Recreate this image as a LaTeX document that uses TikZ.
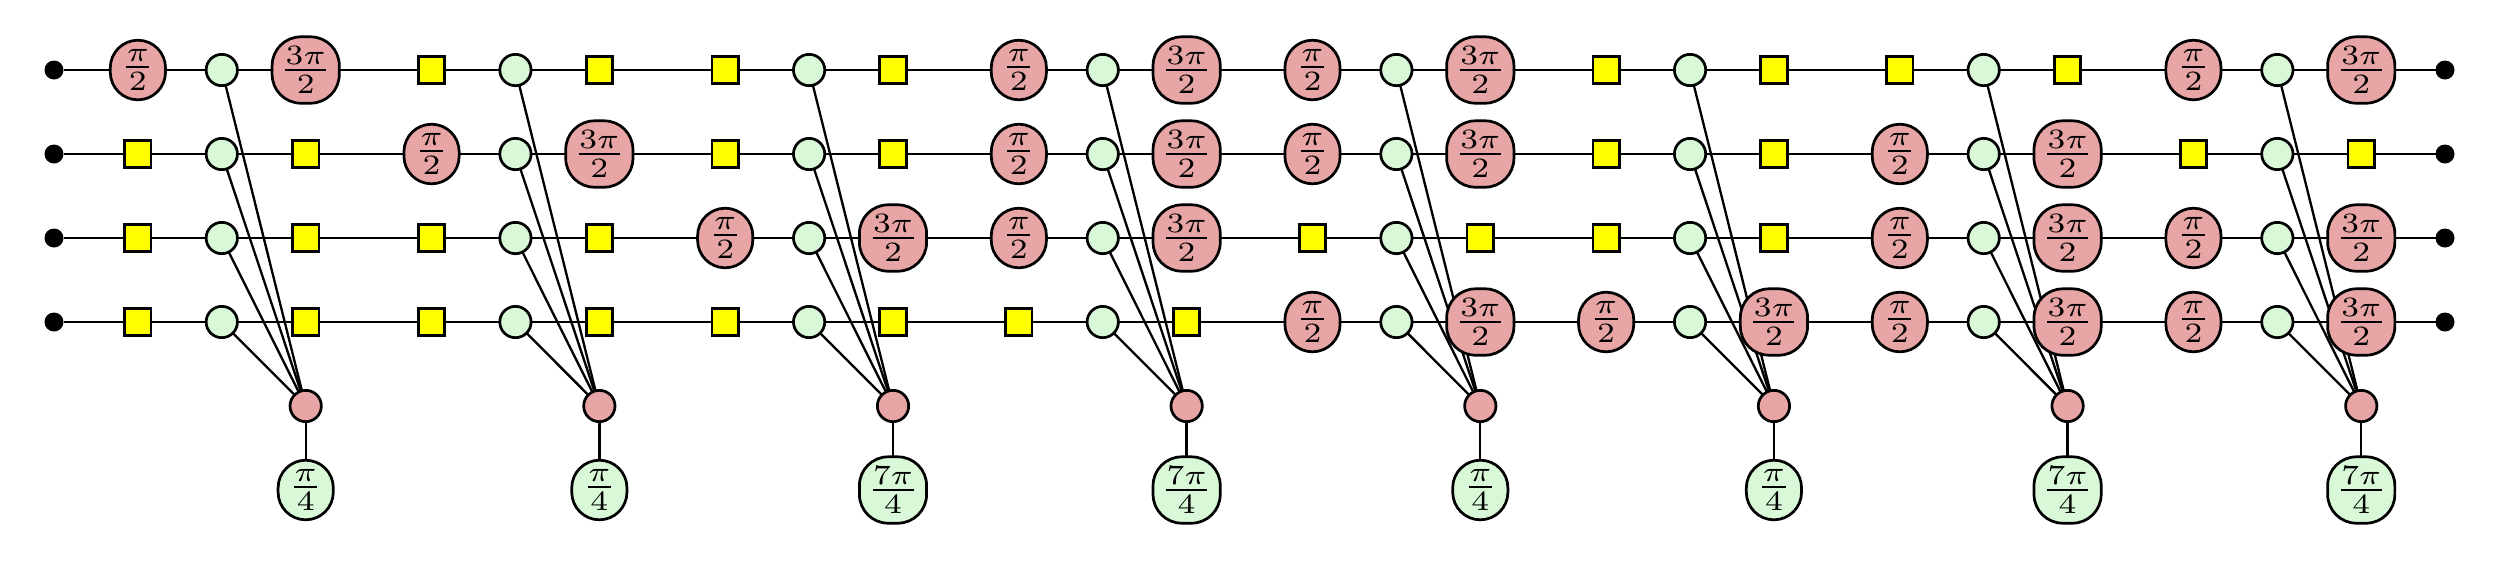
\documentclass[tikz,border=0pt]{standalone}
\usepackage{graphicx}
\usetikzlibrary{backgrounds}
\definecolor{zred}{HTML}{E8A5A5}
\definecolor{zgreen}{HTML}{D8F8D8}
\definecolor{zyellow}{RGB}{255,255,0}
\DeclareMathSizes{10}{10}{6.8}{5}
\newcommand{\fr}[2]{\scalebox{1.12}[1]{$\frac{\kern.12pt #1\kern.12pt}{#2}$}}
\tikzset{
  base/.style={draw=black,line width=0.68pt,inner sep=0pt,outer sep=0pt},
  spider/.style={base,circle,minimum size=7.83pt},
  greenspider/.style={spider,fill=zgreen},
  redspider/.style={spider,fill=zred},
  smallphase/.style={base,rectangle,rounded corners=6.9pt,minimum width=13.8pt,minimum height=14.9pt},
  bigphase/.style={base,rectangle,rounded corners=7.2pt,minimum width=16.8pt,minimum height=16.6pt},
  hadamard/.style={base,rectangle,fill=zyellow,minimum size=6.6pt},
  terminal/.style={circle,fill=black,inner sep=0pt,outer sep=0pt,minimum size=4.75pt},
  wire/.style={line width=0.58pt,black},
}
\begin{document}
\begin{tikzpicture}[x=0.25pt,y=-0.25pt]
\useasboundingbox (0,0) rectangle (2500,560);
\def\stp{83.9}
\foreach \r in {1,2,3,4}{
  \pgfmathsetmacro{\yy}{70+84*(\r-1)}
  \node[terminal] (in\r) at (54,\yy) {};
  \node[terminal] (out\r) at (2445,\yy) {};
}
\foreach \b/\ra/\rb/\rc/\rd/\ph in {
  0/1/0/0/0/1, 1/0/1/0/0/1, 2/0/0/1/0/7, 3/1/1/1/0/7,
  4/1/1/0/1/1, 5/0/0/0/1/1, 6/0/1/1/1/7, 7/1/0/1/1/7}{
  \pgfmathsetmacro{\xx}{54+\stp*(2+3.5*\b)}
  \pgfmathsetmacro{\xl}{\xx-\stp}
  \pgfmathsetmacro{\xr}{\xx+\stp}
  \foreach \r/\f in {1/\ra,2/\rb,3/\rc,4/\rd}{
    \pgfmathsetmacro{\yy}{70+84*(\r-1)}
    \node[greenspider] (g\b-\r) at (\xx,\yy) {};
    \ifnum\f=1
      \node[smallphase,fill=zred] (l\b-\r) at (\xl,\yy) {\fr{\pi}{2}};
      \node[bigphase,fill=zred] (t\b-\r) at (\xr,\yy) {\fr{3\pi}{2}};
    \else
      \node[hadamard] (l\b-\r) at (\xl,\yy) {};
      \node[hadamard] (t\b-\r) at (\xr,\yy) {};
    \fi
  }
  \node[redspider] (c\b) at (\xr,406) {};
  \ifnum\ph=1
    \node[smallphase,fill=zgreen] (p\b) at (\xr,490) {\fr{\pi}{4}};
  \else
    \node[bigphase,fill=zgreen] (p\b) at (\xr,490) {\fr{7\pi}{4}};
  \fi
}
\begin{pgfonlayer}{background}
\foreach \r in {1,2,3,4}{
  \draw[wire] (in\r) -- (l0-\r);
  \draw[wire] (t7-\r) -- (out\r);
  \foreach \b in {0,...,7}{
    \draw[wire] (l\b-\r) -- (g\b-\r);
    \draw[wire] (g\b-\r) -- (t\b-\r);
    \draw[wire] (g\b-\r) -- (c\b);
  }
  \foreach \b/\n in {0/1,1/2,2/3,3/4,4/5,5/6,6/7}{
    \draw[wire] (t\b-\r) -- (l\n-\r);
  }
}
\foreach \b in {0,...,7}{
  \draw[wire] (c\b) -- (p\b);
}
\end{pgfonlayer}
\end{tikzpicture}
\end{document}
